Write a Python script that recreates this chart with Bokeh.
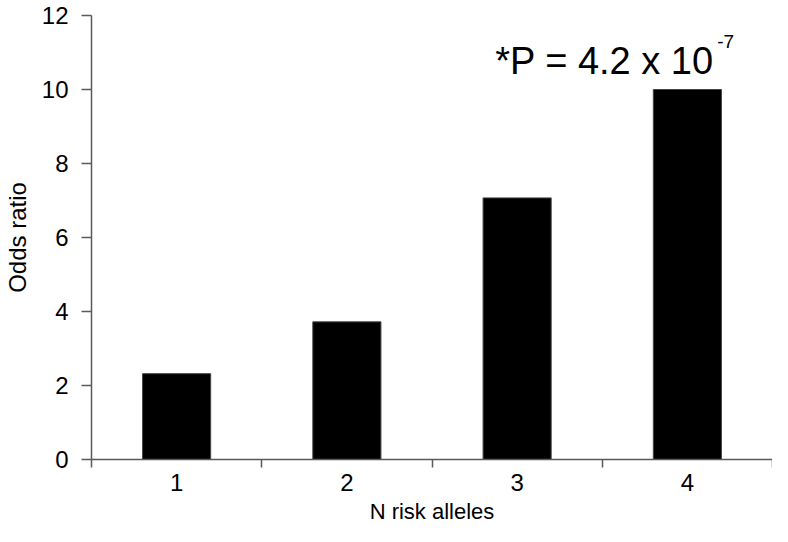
from bokeh.plotting import figure
from bokeh.models import FixedTicker, Label, Range1d
from bokeh.embed import file_html
from bokeh.resources import INLINE

alleles = [1, 2, 3, 4]
odds_ratio = [2.32, 3.72, 7.07, 10.0]
x_tick_labels = ["1", "2", "3", "4"]
x_separators = [0.5, 1.5, 2.5, 3.5, 4.5]
y_ticks = [0, 2, 4, 6, 8, 10, 12]
p_text = "*P = 4.2 x 10"
p_exp = "-7"

FONT = "Liberation Sans"
AXIS_COLOR = "#5a5a5a"

p = figure(width=772, height=526, output_backend="svg", toolbar_location=None,
           x_range=Range1d(0.5, 4.5), y_range=Range1d(0, 12),
           min_border_left=88, min_border_right=0, min_border_top=15,
           min_border_bottom=40)
p.background_fill_color = "white"
p.border_fill_color = "white"
p.outline_line_color = None
p.xgrid.visible = False
p.ygrid.visible = False

p.vbar(x=alleles, top=odds_ratio, width=0.4, fill_color="black",
       line_color="#444444", line_width=1)

xa = p.xaxis[0]
xa.ticker = FixedTicker(ticks=alleles, minor_ticks=x_separators)
xa.major_label_overrides = {a: l for a, l in zip(alleles, x_tick_labels)}
xa.major_tick_out = 0
xa.major_tick_in = 0
xa.minor_tick_out = 8
xa.minor_tick_in = 0
xa.minor_tick_line_color = AXIS_COLOR
xa.minor_tick_line_width = 1.5
xa.axis_line_color = AXIS_COLOR
xa.axis_line_width = 1.5
xa.major_label_text_font = FONT
xa.major_label_text_font_size = "24px"
xa.major_label_text_color = "black"
xa.major_label_standoff = 6
xa.axis_label = "N risk alleles"
xa.axis_label_text_font = FONT
xa.axis_label_text_font_size = "22px"
xa.axis_label_text_font_style = "normal"
xa.axis_label_text_color = "black"
xa.axis_label_standoff = 5

ya = p.yaxis[0]
ya.ticker = FixedTicker(ticks=y_ticks, minor_ticks=[])
ya.major_tick_out = 10
ya.major_tick_in = 0
ya.major_tick_line_color = AXIS_COLOR
ya.major_tick_line_width = 1.5
ya.minor_tick_out = 0
ya.minor_tick_in = 0
ya.axis_line_color = AXIS_COLOR
ya.axis_line_width = 1.5
ya.major_label_text_font = FONT
ya.major_label_text_font_size = "24px"
ya.major_label_text_color = "black"
ya.major_label_standoff = 13
ya.axis_label = "Odds ratio"
ya.axis_label_text_font = FONT
ya.axis_label_text_font_size = "24px"
ya.axis_label_text_font_style = "normal"
ya.axis_label_text_color = "black"
ya.axis_label_standoff = 8

p.add_layout(Label(x=2.871, y=10.78, text=p_text, text_font=FONT,
                   text_font_size="38px", text_color="black",
                   text_baseline="alphabetic", text_align="left"))
p.add_layout(Label(x=4.175, y=11.30, text=p_exp, text_font=FONT,
                   text_font_size="19px", text_color="black",
                   text_baseline="alphabetic", text_align="left"))

open("out.html", "w").write(file_html(p, INLINE))
